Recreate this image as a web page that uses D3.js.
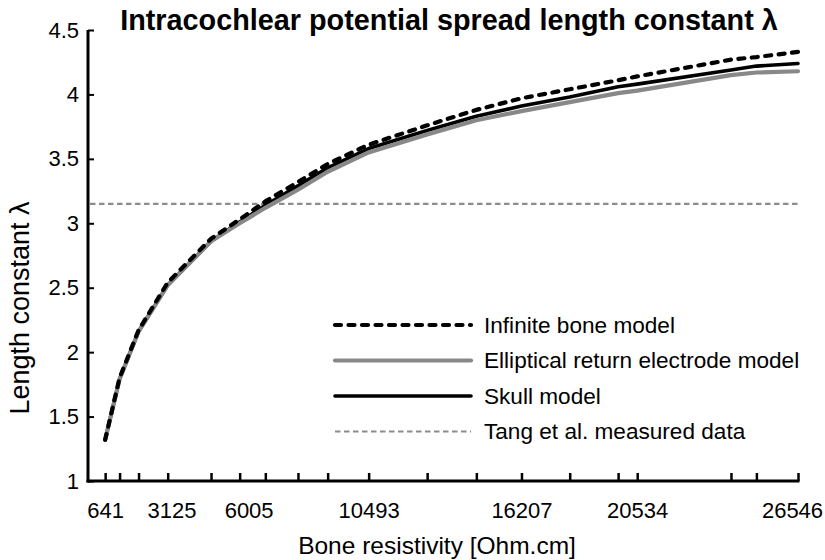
<!DOCTYPE html>
<html>
<head>
<meta charset="utf-8">
<script src="https://cdn.jsdelivr.net/npm/d3@7"></script>
<style>
  body { margin: 0; background: #fff; }
  svg { display: block; font-family: "Liberation Sans", Arial, sans-serif; }
</style>
</head>
<body>
<svg id="chart" width="825" height="560"></svg>
<script>
// Bone resistivity samples [Ohm.cm]
const resistivity = [641, 1180, 1890, 2980, 4600, 5670, 6630, 7850, 8960, 10493,
  12680, 14520, 16207, 18010, 19820, 20534, 24040, 24990, 26546];

// Length constant λ per model
const infiniteBone = [1.32, 1.80, 2.17, 2.54, 2.88, 3.03, 3.17, 3.32, 3.46, 3.61,
  3.76, 3.88, 3.97, 4.04, 4.11, 4.14, 4.27, 4.29, 4.33];
const ellipticalReturn = [1.32, 1.79, 2.16, 2.52, 2.86, 3.00, 3.12, 3.26, 3.40, 3.55,
  3.69, 3.80, 3.87, 3.94, 4.01, 4.03, 4.15, 4.17, 4.18];
const skullModel = [1.32, 1.79, 2.16, 2.52, 2.86, 3.01, 3.14, 3.29, 3.43, 3.58,
  3.72, 3.83, 3.91, 3.98, 4.06, 4.08, 4.19, 4.22, 4.24];

// Measured reference value (Tang et al.)
const tangMeasured = 3.15;

// Axis labels
const xLabelValues = [641, 3125, 6005, 10493, 16207, 20534, 26546];
const yTickValues = [1, 1.5, 2, 2.5, 3, 3.5, 4, 4.5];

const seriesNames = ["Infinite bone model", "Elliptical return electrode model",
  "Skull model", "Tang et al. measured data"];

const svg = d3.select("#chart");
const plotLeft = 88, plotRight = 798, plotTop = 30, plotBottom = 481;

const x = d3.scaleLinear().domain([0, 26546]).range([plotLeft, plotRight]);
const y = d3.scaleLinear().domain([1, 4.5]).range([plotBottom, plotTop]);

// Title
svg.append("text")
  .attr("x", 449).attr("y", 30)
  .attr("text-anchor", "middle")
  .attr("font-size", 28.8).attr("font-weight", "bold")
  .text("Intracochlear potential spread length constant λ");

// Y axis
const yAxis = svg.append("g")
  .attr("transform", `translate(${plotLeft},0)`)
  .call(d3.axisLeft(y).tickValues(yTickValues).tickFormat(d3.format("~g"))
    .tickSize(-6).tickSizeOuter(0).tickPadding(9));
yAxis.select(".domain").remove();
yAxis.selectAll(".tick line").attr("stroke", "#000").attr("stroke-width", 2);
yAxis.selectAll(".tick text").attr("font-size", 22).attr("fill", "#000")
  .attr("font-family", "Liberation Sans, Arial, sans-serif");

// X axis tick marks at sample positions
const xTicks = svg.append("g")
  .attr("transform", `translate(0,${plotBottom})`)
  .call(d3.axisBottom(x).tickValues(resistivity).tickSize(-8)
    .tickSizeOuter(0).tickFormat(""));
xTicks.select(".domain").remove();
xTicks.selectAll(".tick line").attr("stroke", "#000").attr("stroke-width", 2.5);

// X axis labels
const xLabels = svg.append("g")
  .attr("transform", `translate(0,${plotBottom})`)
  .call(d3.axisBottom(x).tickValues(xLabelValues).tickSize(0)
    .tickSizeOuter(0).tickPadding(21).tickFormat(d3.format("d")));
xLabels.select(".domain").remove();
xLabels.selectAll(".tick text").attr("font-size", 22).attr("fill", "#000")
  .attr("font-family", "Liberation Sans, Arial, sans-serif");
// keep the last label inside the frame
xLabels.selectAll(".tick text").filter(d => d === 26546).attr("dx", -6);

// Axis lines
svg.append("line")
  .attr("x1", plotLeft).attr("x2", plotLeft).attr("y1", plotTop).attr("y2", plotBottom + 1.5)
  .attr("stroke", "#000").attr("stroke-width", 3);
svg.append("line")
  .attr("x1", plotLeft - 1.5).attr("x2", plotRight + 1.5).attr("y1", plotBottom).attr("y2", plotBottom)
  .attr("stroke", "#000").attr("stroke-width", 3);

// Axis titles
svg.append("text")
  .attr("x", 437).attr("y", 554)
  .attr("text-anchor", "middle").attr("font-size", 24.5)
  .text("Bone resistivity [Ohm.cm]");
svg.append("text")
  .attr("transform", "translate(29,308) rotate(-90)")
  .attr("text-anchor", "middle").attr("font-size", 27)
  .text("Length constant λ");

// Series styles
const styles = [
  { color: "#000", width: 4.2, dash: "6,7.5", cap: "round" },
  { color: "#888", width: 4.2, dash: null, cap: "round" },
  { color: "#000", width: 3.6, dash: null, cap: "round" },
  { color: "#8c8c8c", width: 2.2, dash: "5.5,3.5", cap: "butt" }
];

// Reference line
svg.append("line")
  .attr("x1", plotLeft + 2).attr("x2", plotRight)
  .attr("y1", y(tangMeasured)).attr("y2", y(tangMeasured))
  .attr("stroke", styles[3].color).attr("stroke-width", styles[3].width)
  .attr("stroke-dasharray", styles[3].dash);

const line = d3.line().x((d, i) => x(resistivity[i])).y(d => y(d));

// Drawn so the dashed curve sits on top
[[skullModel, 2], [ellipticalReturn, 1], [infiniteBone, 0]].forEach(([vals, si]) => {
  const s = styles[si];
  svg.append("path")
    .datum(vals)
    .attr("d", line)
    .attr("fill", "none")
    .attr("stroke", s.color)
    .attr("stroke-width", s.width)
    .attr("stroke-linecap", s.cap)
    .attr("stroke-linejoin", "round")
    .attr("stroke-dasharray", s.dash);
});

// Legend
const legend = svg.append("g");
seriesNames.forEach((name, i) => {
  const s = styles[i];
  const ly = 325 + i * 35.5;
  legend.append("line")
    .attr("x1", 335).attr("x2", 471).attr("y1", ly).attr("y2", ly)
    .attr("stroke", s.color).attr("stroke-width", s.width)
    .attr("stroke-linecap", s.cap).attr("stroke-dasharray", s.dash);
  legend.append("text")
    .attr("x", 484).attr("y", ly).attr("dy", "0.35em")
    .attr("font-size", 22.6).text(name);
});
</script>
</body>
</html>
